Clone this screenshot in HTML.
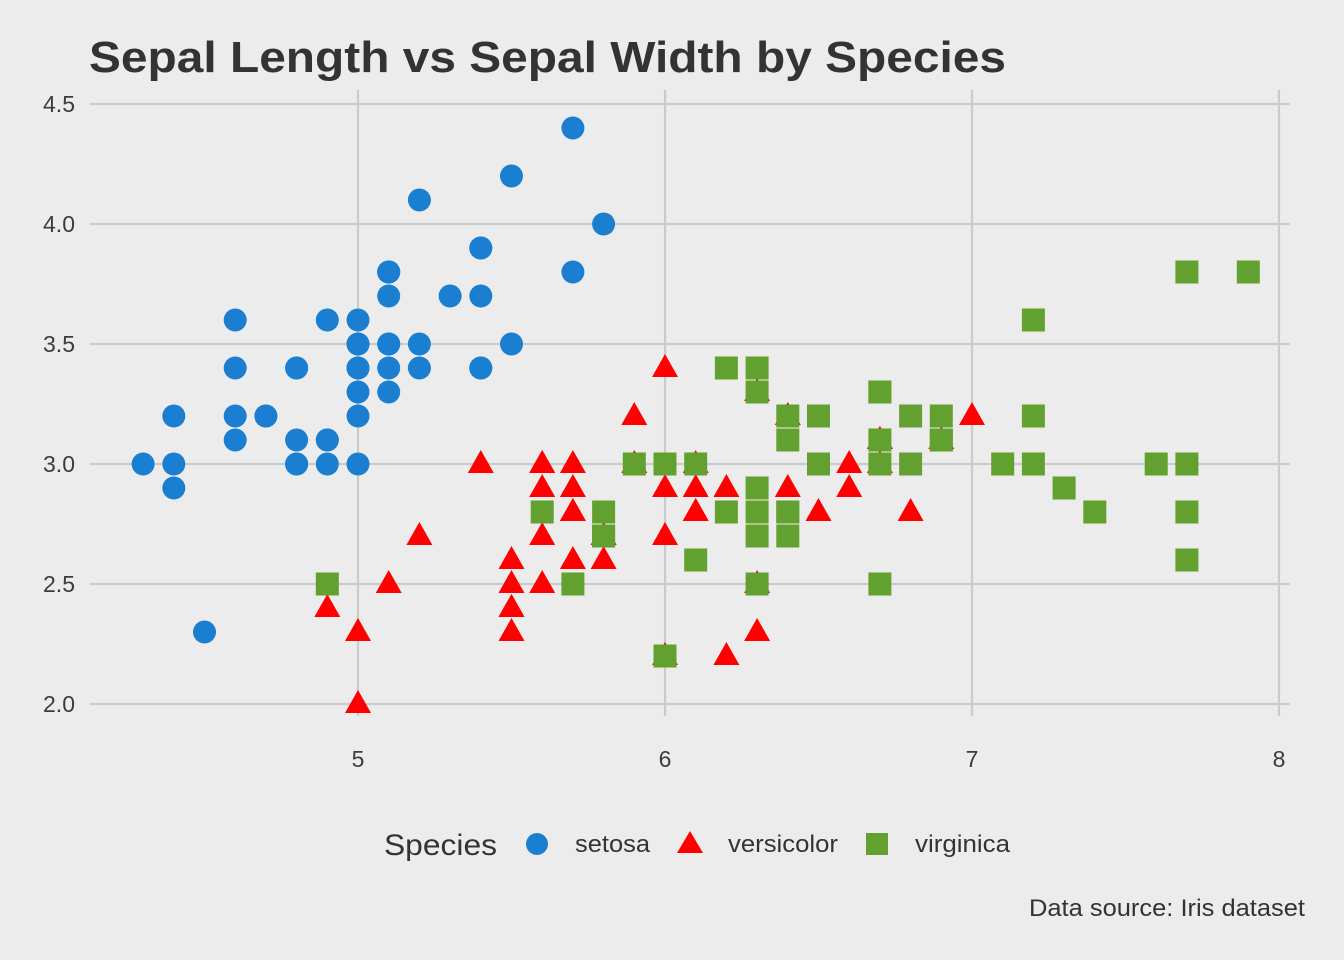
<!DOCTYPE html>
<html><head><meta charset="utf-8">
<style>
html,body{margin:0;padding:0;background:#ececec;}
svg{display:block;font-family:"Liberation Sans",Arial,sans-serif;}
</style></head>
<body>
<svg id="chart" width="1344" height="960" viewBox="0 0 1344 960">
<rect width="1344" height="960" fill="#ececec"/>
<text x="89" y="72" font-size="44" font-weight="bold" fill="#333" textLength="917" lengthAdjust="spacingAndGlyphs">Sepal Length vs Sepal Width by Species</text>
<g id="grid"></g>
<g id="ticks"></g>
<g id="pts"></g>
<g id="legend">
<text x="384" y="855" font-size="30" fill="#333" textLength="113" lengthAdjust="spacingAndGlyphs">Species</text>
<circle cx="537" cy="844" r="11" fill="#1a7ed1"/>
<text x="575" y="852" font-size="24" fill="#333" textLength="75" lengthAdjust="spacingAndGlyphs">setosa</text>
<polygon points="690,831 703,853 677,853" fill="#ff0000"/>
<text x="728" y="852" font-size="24" fill="#333" textLength="110" lengthAdjust="spacingAndGlyphs">versicolor</text>
<rect x="866" y="833" width="22" height="22" fill="#62a030"/>
<text x="915" y="852" font-size="24" fill="#333" textLength="95" lengthAdjust="spacingAndGlyphs">virginica</text>
</g>
<text x="1305" y="916" font-size="24" fill="#333" text-anchor="end" textLength="276" lengthAdjust="spacingAndGlyphs">Data source: Iris dataset</text>
</svg>
<script>
const xTicks=[5,6,7,8];
const yTicks=[2.0,2.5,3.0,3.5,4.0,4.5];
const setosaX=[5.1,4.9,4.7,4.6,5.0,5.4,4.6,5.0,4.4,4.9,5.4,4.8,4.8,4.3,5.8,5.7,5.4,5.1,5.7,5.1,5.4,5.1,4.6,5.1,4.8,5.0,5.0,5.2,5.2,4.7,4.8,5.4,5.2,5.5,4.9,5.0,5.5,4.9,4.4,5.1,5.0,4.5,4.4,5.0,5.1,4.8,5.1,4.6,5.3,5.0];
const setosaY=[3.5,3.0,3.2,3.1,3.6,3.9,3.4,3.4,2.9,3.1,3.7,3.4,3.0,3.0,4.0,4.4,3.9,3.5,3.8,3.8,3.4,3.7,3.6,3.3,3.4,3.0,3.4,3.5,3.4,3.2,3.1,3.4,4.1,4.2,3.1,3.2,3.5,3.6,3.0,3.4,3.5,2.3,3.2,3.5,3.8,3.0,3.8,3.2,3.7,3.3];
const versicolorX=[7.0,6.4,6.9,5.5,6.5,5.7,6.3,4.9,6.6,5.2,5.0,5.9,6.0,6.1,5.6,6.7,5.6,5.8,6.2,5.6,5.9,6.1,6.3,6.1,6.4,6.6,6.8,6.7,6.0,5.7,5.5,5.5,5.8,6.0,5.4,6.0,6.7,6.3,5.6,5.5,5.5,6.1,5.8,5.0,5.6,5.7,5.7,6.2,5.1,5.7];
const versicolorY=[3.2,3.2,3.1,2.3,2.8,2.8,3.3,2.4,2.9,2.7,2.0,3.0,2.2,2.9,2.9,3.1,3.0,2.7,2.2,2.5,3.2,2.8,2.5,2.8,2.9,3.0,2.8,3.0,2.9,2.6,2.4,2.4,2.7,2.7,3.0,3.4,3.1,2.3,3.0,2.5,2.6,3.0,2.6,2.3,2.7,3.0,2.9,2.9,2.5,2.8];
const virginicaX=[6.3,5.8,7.1,6.3,6.5,7.6,4.9,7.3,6.7,7.2,6.5,6.4,6.8,5.7,5.8,6.4,6.5,7.7,7.7,6.0,6.9,5.6,7.7,6.3,6.7,7.2,6.2,6.1,6.4,7.2,7.4,7.9,6.4,6.3,6.1,7.7,6.3,6.4,6.0,6.9,6.7,6.9,5.8,6.8,6.7,6.7,6.3,6.5,6.2,5.9];
const virginicaY=[3.3,2.7,3.0,2.9,3.0,3.0,2.5,2.9,2.5,3.6,3.2,2.7,3.0,2.5,2.8,3.2,3.0,3.8,2.6,2.2,3.2,2.8,2.8,2.7,3.3,3.2,2.8,3.0,2.8,3.0,2.8,3.8,2.8,2.8,2.6,3.0,3.4,3.1,3.0,3.1,3.1,3.1,2.7,3.2,3.3,3.0,2.5,3.0,3.4,3.0];

const NS="http://www.w3.org/2000/svg";
const sx=v=>358+(v-5)*307;
const sy=v=>704-(v-2)*240;
function mk(tag,attrs,parent){const e=document.createElementNS(NS,tag);for(const k in attrs)e.setAttribute(k,attrs[k]);parent.appendChild(e);return e;}
const grid=document.getElementById('grid'),ticks=document.getElementById('ticks'),pts=document.getElementById('pts');
yTicks.forEach(t=>{
  const l=mk('line',{x1:90,x2:1290,y1:sy(t),y2:sy(t),stroke:'#cbcbcb','stroke-width':2.2},grid);
  
  
  const tx=mk('text',{x:75,y:sy(t)+8,'font-size':23,fill:'#3c3c3c','text-anchor':'end'},ticks);
  tx.textContent=t.toFixed(1);
  
  
});
xTicks.forEach(t=>{
  const l=mk('line',{x1:sx(t),x2:sx(t),y1:90,y2:716,stroke:'#cbcbcb','stroke-width':2.2},grid);
  
  
  const tx=mk('text',{x:sx(t),y:767,'font-size':23,fill:'#3c3c3c','text-anchor':'middle'},ticks);
  tx.textContent=String(t);
  
  
});
setosaX.forEach((x,i)=>{
  const c=mk('circle',{cx:sx(x),cy:sy(setosaY[i]),r:11.5,fill:'#1a7ed1'},pts);
  
  
});
versicolorX.forEach((x,i)=>{
  const cx=sx(x),cy=sy(versicolorY[i]);
  const p=mk('polygon',{points:`${cx},${cy-14} ${cx+13},${cy+9} ${cx-13},${cy+9}`,fill:'#ff0000'},pts);
  
  
});
virginicaX.forEach((x,i)=>{
  const cx=sx(x),cy=sy(virginicaY[i]);
  const r=mk('rect',{x:cx-11.5,y:cy-11.5,width:23,height:23,fill:'#62a030'},pts);
  
  
});
</script>
</body></html>
